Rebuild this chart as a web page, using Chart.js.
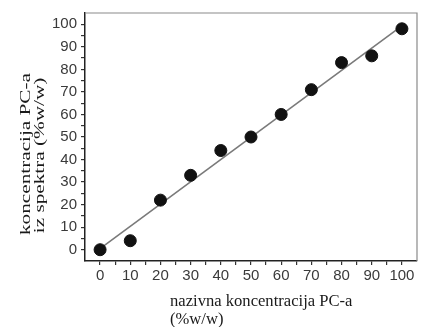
<!DOCTYPE html>
<html>
<head>
<meta charset="utf-8">
<script src="https://cdn.jsdelivr.net/npm/chart.js@4"></script>
<style>
  html, body { margin: 0; padding: 0; background: #fff; }
  #wrap { width: 424px; height: 327px; position: relative; }
</style>
</head>
<body>
<div id="wrap"><canvas id="grafico"></canvas></div>
<script>
// nominal vs measured concentration
const nazivna = [0, 10, 20, 30, 40, 50, 60, 70, 80, 90, 100];
const izSpektra = [0, 4, 22, 33, 44, 50, 60, 71, 83, 86, 98];

// fitted line, end points
const pravacX = [1, 101];
const pravacY = [1.5, 100.3];

const naslovX = ["nazivna koncentracija PC-a", "(%w/w)"];
const naslovY = ["koncentracija PC-a", "iz spektra (%w/w)"];

const tocke = nazivna.map((x, i) => ({ x, y: izSpektra[i] }));
const pravac = pravacX.map((x, i) => ({ x, y: pravacY[i] }));

// gray frame on top/right + axis titles
const okvir = {
  id: "okvir",
  beforeDatasetsDraw(chart) {
    const { ctx, chartArea: a } = chart;
    ctx.save();
    ctx.strokeStyle = "#8a8a8a";
    ctx.lineWidth = 1.2;
    ctx.beginPath();
    ctx.moveTo(a.left, a.top);
    ctx.lineTo(a.right, a.top);
    ctx.lineTo(a.right, a.bottom);
    ctx.stroke();
    ctx.restore();
  },
  afterDraw(chart) {
    const { ctx } = chart;
    ctx.save();
    ctx.fillStyle = "#1a1a1a";
    ctx.font = "16.6px 'Liberation Serif'";
    ctx.textAlign = "left";
    ctx.textBaseline = "middle";
    ctx.fillText(naslovX[0], 170, 302);
    ctx.fillText(naslovX[1], 170, 320);

    // y title looks horizontally stretched in the original
    ctx.translate(0, 154);
    ctx.rotate(-Math.PI / 2);
    ctx.font = "15px 'Liberation Serif'";
    const k = 162 / ctx.measureText(naslovY[0]).width;
    ctx.scale(k, 1);
    ctx.textAlign = "center";
    ctx.fillText(naslovY[0], 0, 26);
    ctx.fillText(naslovY[1], -1, 40);
    ctx.restore();
  }
};

const osi = {
  min: -5,
  max: 105,
  ticks: {
    stepSize: 5,
    autoSkip: false,
    maxRotation: 0,
    color: "#3a3a3a",
    font: { family: "'Liberation Sans', Arial", size: 15 },
    callback: v => (v % 10 === 0 ? v : "")
  },
  grid: { drawOnChartArea: false, drawTicks: true, tickLength: 4, color: "#333", lineWidth: 1.2 },
  border: { display: true, color: "#222", width: 1.5 },
  afterBuildTicks: s => { s.ticks = s.ticks.filter(t => t.value >= 0 && t.value <= 100); }
};

new Chart(document.getElementById("grafico"), {
  type: "scatter",
  data: {
    datasets: [
      {
        data: tocke,
        backgroundColor: "#111",
        borderColor: "#111",
        pointRadius: 6,
        order: 0
      },
      {
        type: "line",
        data: pravac,
        borderColor: "#7a7a7a",
        borderWidth: 1.6,
        pointRadius: 0,
        showLine: true,
        order: 1
      }
    ]
  },
  options: {
    responsive: true,
    maintainAspectRatio: false,
    animation: false,
    layout: { padding: { top: 12, right: 2, left: 0, bottom: 0 } },
    plugins: { legend: { display: false }, tooltip: { enabled: false } },
    scales: {
      x: {
        ...osi,
        ticks: { ...osi.ticks, padding: 2 },
        afterFit: s => { s.height = 66; }
      },
      y: {
        ...osi,
        ticks: { ...osi.ticks, padding: 4 },
        afterFit: s => { s.width = 85; }
      }
    }
  },
  plugins: [okvir]
});
</script>
</body>
</html>
